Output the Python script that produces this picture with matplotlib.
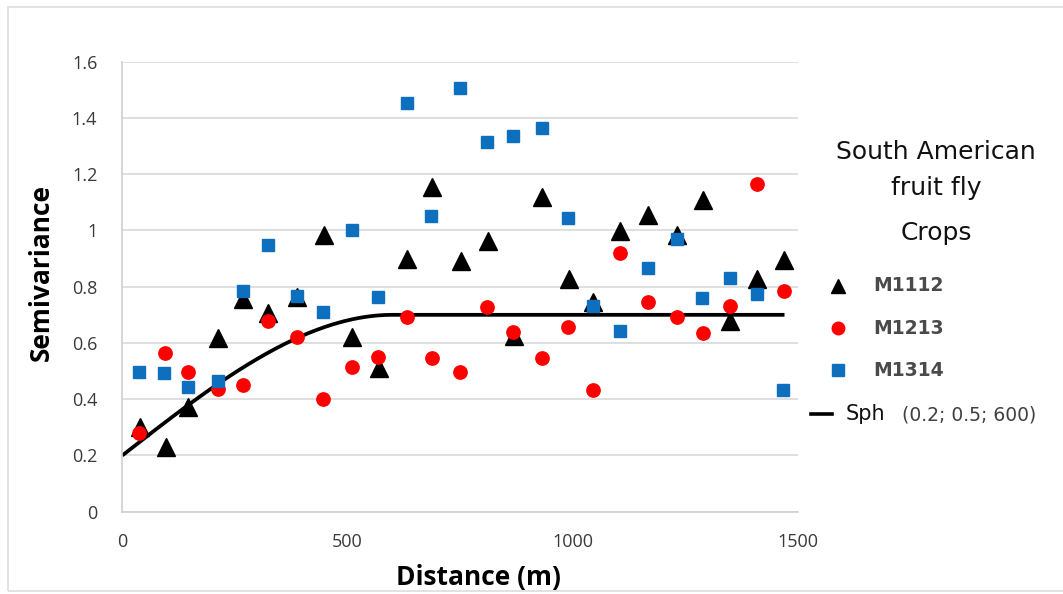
import numpy as np
import matplotlib
matplotlib.use("Agg")
from matplotlib import pyplot as plt
from matplotlib.lines import Line2D
from matplotlib.patches import Rectangle

# lag distances (m) and semivariances
lag_m1112 = [39, 96, 146, 213, 269, 324, 387, 448, 510, 570, 633, 688, 751, 811, 870, 932, 992, 1046, 1105, 1168, 1231, 1288, 1349, 1409, 1468]
gam_m1112 = [0.30, 0.23, 0.373, 0.616, 0.758, 0.705, 0.764, 0.984, 0.620, 0.510, 0.898, 1.156, 0.892, 0.964, 0.625, 1.120, 0.826, 0.747, 0.999, 1.055, 0.984, 1.108, 0.679, 0.826, 0.895]

lag_m1213 = [38, 95, 145, 212, 267, 324, 387, 446, 509, 568, 631, 687, 750, 809, 868, 931, 990, 1046, 1105, 1168, 1231, 1288, 1349, 1408, 1468]
gam_m1213 = [0.281, 0.563, 0.498, 0.435, 0.450, 0.679, 0.622, 0.399, 0.513, 0.549, 0.693, 0.545, 0.498, 0.729, 0.640, 0.548, 0.656, 0.433, 0.921, 0.747, 0.693, 0.634, 0.731, 1.164, 0.786]

lag_m1314 = [38, 93, 145, 212, 269, 324, 387, 446, 509, 568, 631, 685, 750, 809, 868, 931, 990, 1046, 1105, 1168, 1231, 1286, 1349, 1408, 1467]
gam_m1314 = [0.498, 0.492, 0.442, 0.465, 0.786, 0.948, 0.768, 0.709, 1.001, 0.762, 1.452, 1.051, 1.505, 1.316, 1.337, 1.364, 1.045, 0.733, 0.644, 0.865, 0.970, 0.759, 0.832, 0.774, 0.433]

# spherical model (nugget; partial sill; range) as labelled
nugget, psill, rng = 0.2, 0.5, 600
h_max = 1470

W, H = 1063, 594
fig = plt.figure(figsize=(W / 100, H / 100), dpi=100)
fig.patch.set_facecolor("white")

def fx(px):
    return px / W

def fy(py):
    return 1 - py / H

ax = fig.add_axes([fx(122.3), fy(511.7), fx(798) - fx(122.3), fy(61.7) - fy(511.7)])

h = np.linspace(0, h_max, 400)
hr = np.minimum(h / rng, 1.0)
gam = nugget + psill * (1.5 * hr - 0.5 * hr ** 3)
ax.plot(h, gam, color="black", lw=2.7, zorder=2, solid_capstyle="butt")

ax.plot(lag_m1112, gam_m1112, ls="none", marker="^", ms=12.5, color="black", mec="black", zorder=3)
ax.plot(lag_m1213, gam_m1213, ls="none", marker="o", ms=9.6, color="#ff0000", mec="#ff0000", zorder=4)
ax.plot(lag_m1314, gam_m1314, ls="none", marker="s", ms=8.2, color="#0f6fbf", mec="#0f6fbf", zorder=5)

ax.set_xlim(0, 1500)
ax.set_ylim(0, 1.6)
ax.set_xticks([0, 500, 1000, 1500])
ax.set_yticks([0, 0.2, 0.4, 0.6, 0.8, 1.0, 1.2, 1.4, 1.6])
ax.set_yticklabels(["0", "0.2", "0.4", "0.6", "0.8", "1", "1.2", "1.4", "1.6"])
ax.grid(axis="y", color="#d9d9d9", lw=1.2)
ax.set_axisbelow(True)
for s in ["top", "right"]:
    ax.spines[s].set_visible(False)
ax.spines["left"].set_color("#d0d0d0")
ax.spines["bottom"].set_color("#d0d0d0")
ax.spines["left"].set_linewidth(1.2)
ax.spines["bottom"].set_linewidth(1.2)
ax.tick_params(length=0)
ax.tick_params(axis="y", pad=18)
ax.tick_params(axis="x", pad=15)
tick_font = ["Open Sans", "DejaVu Sans"]
for lab in ax.get_xticklabels() + ax.get_yticklabels():
    lab.set_family(tick_font)
    lab.set_fontsize(13)
    lab.set_color("#3a3a3a")

ax.set_xlabel("Distance (m)", fontsize=19, fontweight="bold", family=tick_font)
ax.set_ylabel("Semivariance", fontsize=19, fontweight="bold", family=tick_font)
ax.xaxis.set_label_coords((478 - 122.3) / (798 - 122.3), -(564 - 511.7) / 450)
ax.yaxis.set_label_coords(-(122.3 - 55) / 675.7, (511.7 - 272) / 450)

# legend block on the right
leg_font = ["DejaVu Sans"]
fig.text(fx(936), fy(152), "South American", ha="center", va="center", fontsize=18, family=leg_font, color="#111111")
fig.text(fx(936), fy(188), "fruit fly", ha="center", va="center", fontsize=18, family=leg_font, color="#111111")
fig.text(fx(936), fy(233), "Crops", ha="center", va="center", fontsize=18, family=leg_font, color="#111111")

entries = [("M1112", "^", "black", 10, 286), ("M1213", "o", "#ff0000", 9, 328), ("M1314", "s", "#0f6fbf", 8.5, 370)]
for label, mk, col, ms, py in entries:
    fig.add_artist(Line2D([fx(838)], [fy(py)], marker=mk, ms=ms, color=col, ls="none", transform=fig.transFigure))
    fig.text(fx(873), fy(py), label, ha="left", va="center", fontsize=13.5, family=leg_font, color="#4a4a4a", fontweight="bold")

fig.add_artist(Line2D([fx(811), fx(832)], [fy(414), fy(414)], color="black", lw=2.6, transform=fig.transFigure))
fig.text(fx(846), fy(414), "Sph", ha="left", va="center", fontsize=15, family=leg_font, color="#111111")
fig.text(fx(902), fy(415), "(0.2; 0.5; 600)", ha="left", va="center", fontsize=13.5, family=leg_font, color="#404040")

# thin frame around the picture
fig.add_artist(Rectangle((fx(8), fy(591)), 1.1, fy(6.5) - fy(591), transform=fig.transFigure,
                         fill=False, edgecolor="#dddddd", lw=1.2))

fig.savefig("out.png", dpi=100)
